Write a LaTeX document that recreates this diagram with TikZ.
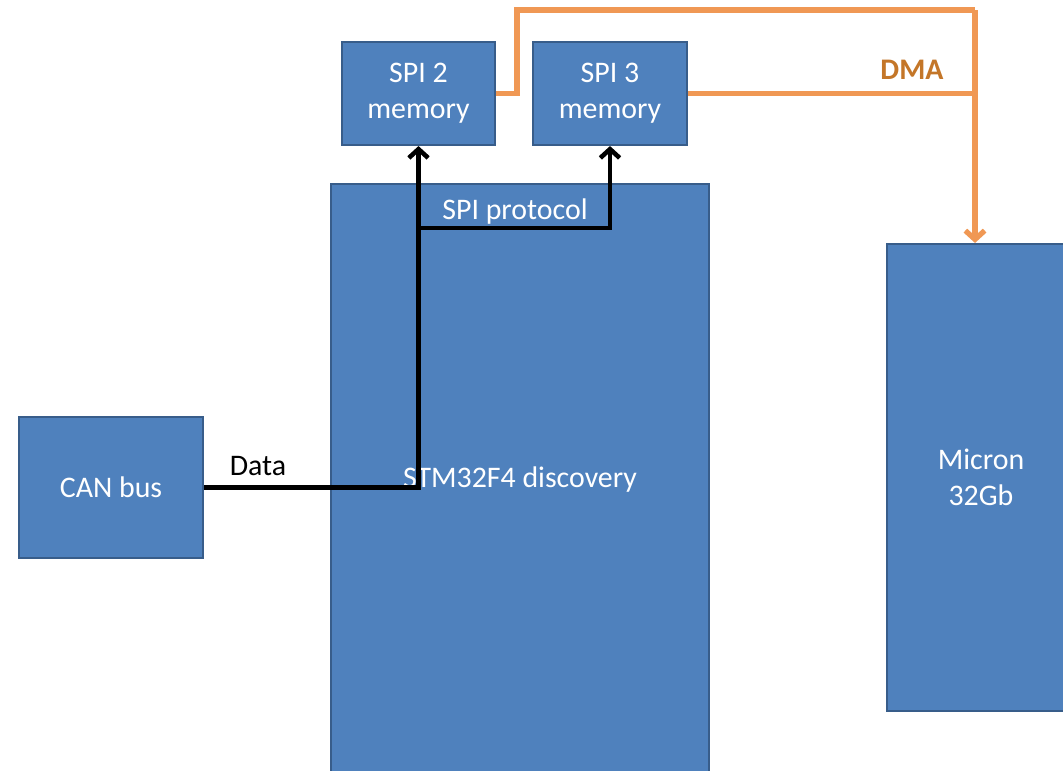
\documentclass[tikz,border=0pt]{standalone}
\usepackage{fontspec}
\setmainfont{Carlito}
\usepackage{xcolor}
\usetikzlibrary{arrows.meta}
\definecolor{boxblue}{RGB}{79,129,189}
\definecolor{boxedge}{RGB}{56,93,138}
\definecolor{dmaline}{RGB}{240,152,84}
\definecolor{dmatext}{RGB}{196,118,40}

\begin{document}
\begin{tikzpicture}[font=\fontsize{17}{20.5}\selectfont,
  block/.style={draw=boxedge,fill=boxblue,line width=1.2pt,text=white,align=center,inner sep=0pt},
  datalink/.style={black,line width=2.6pt},
  dmalink/.style={dmaline,line width=3pt}]
  \clip (0,0) rectangle (21.26,-15.4);
  \fill[white] (0,0) rectangle (21.26,-15.4);
  \node[block,minimum width=3.68cm,minimum height=2.82cm] (can) at (2.22,-9.75) {CAN bus};
  \node[block,minimum width=7.56cm,minimum height=12.12cm] (stm) at (10.4,-9.74) {};
  \node[text=white] (stmname) at (10.4,-9.6) {STM32F4 discovery};
  \node[text=white] (proto) at (10.3,-4.24) {SPI protocol};
  \node[block,minimum width=3.06cm,minimum height=2.06cm] (spi2) at (8.37,-1.87) {SPI 2\\memory};
  \node[block,minimum width=3.08cm,minimum height=2.06cm] (spi3) at (12.2,-1.87) {SPI 3\\memory};
  \node[block,minimum width=3.76cm,minimum height=9.34cm] (micron) at (19.62,-9.55) {Micron\\32Gb};
  \coordinate (fork) at (8.37,-4.56);
  \coordinate (dmabend) at (19.5,-0.2);
  \draw[datalink,-{Straight Barb[length=5pt,width=11pt]}] (can.east) -| (spi2.south);
  \draw[datalink,-{Straight Barb[length=5pt,width=11pt]}] (fork) -| (spi3.south);
  \node (data) at (5.16,-9.32) {Data};
  \draw[dmalink] (spi2.east) -- ++(0.42,0) |- (dmabend);
  \draw[dmalink] (spi3.east) -- (dmabend |- spi3.east);
  \draw[dmalink,-{Straight Barb[length=5pt,width=11pt]}] (dmabend) -- (dmabend |- micron.north);
  \node[text=dmatext,font=\fontsize{17}{20.5}\selectfont\bfseries] (dma) at (18.24,-1.4) {DMA};
\end{tikzpicture}
\end{document}
